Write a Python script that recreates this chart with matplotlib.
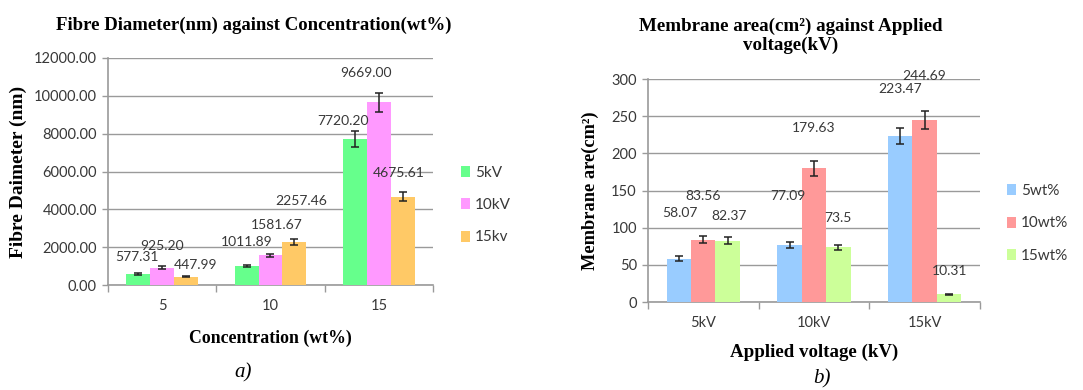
import matplotlib
matplotlib.use("Agg")
import matplotlib.pyplot as plt
import numpy as np

# ---- data: a) fibre diameter vs concentration
conc_labels = ["5", "10", "15"]
voltage_series = ["5kV", "10kV", "15kv"]
diam_5kv = [577.31, 1011.89, 7720.20]
diam_10kv = [925.20, 1581.67, 9669.00]
diam_15kv = [447.99, 2257.46, 4675.61]
diam_err_5kv = [40, 50, 400]
diam_err_10kv = [70, 80, 500]
diam_err_15kv = [40, 150, 260]
diam_ticks = [0, 2000, 4000, 6000, 8000, 10000, 12000]

# ---- data: b) membrane area vs applied voltage
volt_labels = ["5kV", "10kV", "15kV"]
conc_series = ["5wt%", "10wt%", "15wt%"]
area_5wt = [58.07, 77.09, 223.47]
area_10wt = [83.56, 179.63, 244.69]
area_15wt = [82.37, 73.5, 10.31]
area_err_5wt = [3.4, 3.8, 11.0]
area_err_10wt = [4.7, 9.6, 12.3]
area_err_15wt = [4.7, 3.8, 0.5]
area_ticks = [0, 50, 100, 150, 200, 250, 300]

# label offsets (pixels from bar top) to mimic the excel placement
off_a = [[(-1, 17), (0, 22), (10, 12)],
         [(0, 24), (6, 30), (7, 41)],
         [(-12, 18), (-13, 29), (-4, 24)]]
off_b = [[(1, 46), (0, 44), (1, 25)],
         [(-2, 49), (0, 40), (0, 29)],
         [(0, 47), (0, 44), (1, 23)]]

num_font = "Lato"
serif = "Liberation Serif"
txt_col = "#383838"
grid_col = "#9a9a9a"


def bar_panel(ax, cats, names, vals, errs, colors, ticks, fmt, offsets, legend_pos):
    x = np.arange(len(cats))
    w = 0.22
    handles = []
    for i, (v, e, c) in enumerate(zip(vals, errs, colors)):
        xs = x + (i - 1) * w
        b = ax.bar(xs, v, w, color=c, zorder=3, label=names[i])
        ax.errorbar(xs, v, yerr=e, fmt="none", ecolor="#222222", elinewidth=1.1,
                    capsize=3, capthick=1.1, zorder=4)
        handles.append(b)
        for j in range(len(cats)):
            ax.annotate(fmt(v[j]), (xs[j], v[j]), xytext=offsets[j][i],
                        textcoords="offset pixels", ha="center", va="center",
                        fontsize=10, family=num_font, color=txt_col, zorder=5)
    ax.set_xlim(-0.5, len(cats) - 0.5)
    ax.set_ylim(ticks[0], ticks[-1])
    ax.set_yticks(ticks)
    ax.yaxis.grid(True, color=grid_col, lw=1.0, zorder=0)
    ax.set_xticks(x)
    ax.set_xticklabels(cats, family=num_font, fontsize=10.5, color=txt_col)
    ax.set_xticks(np.arange(len(cats) + 1) - 0.5, minor=True)
    ax.tick_params(axis="x", which="major", length=0, pad=10)
    ax.tick_params(axis="x", which="minor", length=5, color=grid_col, width=1)
    ax.tick_params(axis="y", length=4, color=grid_col, width=1, pad=4)
    for lab in ax.get_yticklabels():
        lab.set_family(num_font)
        lab.set_fontsize(10.5)
        lab.set_color(txt_col)
    for s in ["top", "right"]:
        ax.spines[s].set_visible(False)
    for s in ["left", "bottom"]:
        ax.spines[s].set_color(grid_col)
        ax.spines[s].set_linewidth(1.2)
    leg = ax.legend(handles=handles, loc="center left", bbox_to_anchor=legend_pos,
                    bbox_transform=ax.figure.transFigure, frameon=False,
                    handlelength=0.6, handleheight=0.75, handletextpad=0.3,
                    labelspacing=1.2, prop={"family": num_font, "size": 11})
    for t in leg.get_texts():
        t.set_color(txt_col)


fig = plt.figure(figsize=(10.83, 3.9), dpi=100)

ax1 = fig.add_axes([0.0997, 0.2692, 0.3001, 0.5821])
bar_panel(ax1, conc_labels, voltage_series,
          [diam_5kv, diam_10kv, diam_15kv],
          [diam_err_5kv, diam_err_10kv, diam_err_15kv],
          ["#66ff8c", "#ff99ff", "#ffc966"],
          diam_ticks, lambda v: f"{v:.2f}", off_a, (0.413, 0.474))
ax1.set_yticklabels([f"{t:.2f}" for t in diam_ticks])
ax1.set_title("Fibre Diameter(nm) against Concentration(wt%)", family=serif,
              fontweight="bold", fontsize=13.5, pad=20, x=0.45)
ax1.set_xlabel("Concentration (wt%)", family=serif, fontweight="bold", fontsize=12.8, labelpad=12)
ax1.set_ylabel("Fibre Daimeter (nm)", family=serif, fontweight="bold", fontsize=14, labelpad=5)

ax2 = fig.add_axes([0.5983, 0.2256, 0.3066, 0.5718])
bar_panel(ax2, volt_labels, conc_series,
          [area_5wt, area_10wt, area_15wt],
          [area_err_5wt, area_err_10wt, area_err_15wt],
          ["#99ccff", "#ff9999", "#ccff99"],
          area_ticks, lambda v: f"{v:g}", off_b, (0.917, 0.427))
ax2.set_title("Membrane area(cm\u00b2) against Applied\nvoltage(kV)", family=serif,
              fontweight="bold", fontsize=13.7, pad=21, x=0.43, linespacing=1.15)
ax2.set_xlabel("Applied voltage (kV)", family=serif, fontweight="bold", fontsize=13.6, labelpad=10)
ax2.set_ylabel("Membrane are(cm\u00b2)", family=serif, fontweight="bold", fontsize=13.2, labelpad=9)

fig.text(0.2244, 0.045, "a)", family=serif, style="italic", fontsize=15, ha="center", va="center")
fig.text(0.759, 0.028, "b)", family=serif, style="italic", fontsize=15, ha="center", va="center")

fig.savefig("out.png", dpi=100, facecolor="white")
